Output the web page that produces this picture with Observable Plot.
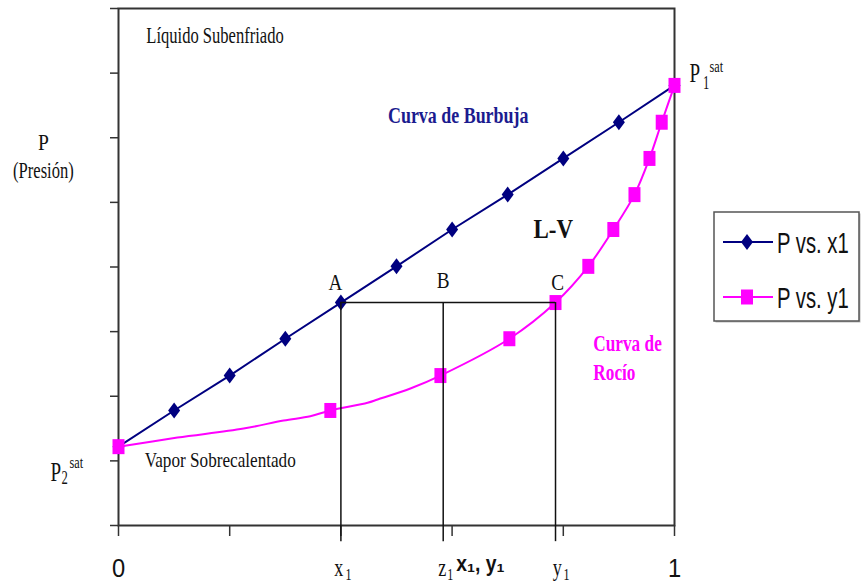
<!DOCTYPE html>
<html>
<head>
<meta charset="utf-8">
<script src="https://cdn.jsdelivr.net/npm/d3@7"></script>
<script src="https://cdn.jsdelivr.net/npm/@observablehq/plot@0.6"></script>
<style>
  body { margin: 0; background: #fff; }
  #chart { position: relative; width: 863px; height: 583px; overflow: hidden; }
  #chart > svg.plot-area { position: absolute; left: 0; top: 0; }
  #chart > svg#legend { position: absolute; left: 712px; top: 209px; }
</style>
</head>
<body>
<div id="chart"></div>
<script>
// Liquid mole fraction x1 along the bubble-point curve
const liquidX1 = [0, 0.1, 0.2, 0.3, 0.4, 0.5, 0.6, 0.7, 0.8, 0.9, 1];
// Pressure levels (arbitrary units) shared by both curves
const pressure = [1.22, 1.78, 2.32, 2.89, 3.45, 4.01, 4.58, 5.12, 5.68, 6.24, 6.81];
// Vapour mole fraction y1 along the dew-point curve, at the same pressures
const vaporY1 = [0, 0.381, 0.579, 0.703, 0.786, 0.845, 0.890, 0.928, 0.955, 0.977, 1];
// Extra traced points of the dew curve in its low-pressure stretch (no markers)
const dewTraceY1 = [0, 0.106, 0.225, 0.297, 0.345, 0.381, 0.448, 0.466, 0.525, 0.579];
const dewTraceP  = [1.22, 1.36, 1.50, 1.625, 1.69, 1.78, 1.90, 1.95, 2.12, 2.32];
// Tie line A-B-C: liquid x1, feed z1, vapour y1 at one pressure
const feedZ1 = 0.584;
const tieLabels = ["x", "z", "y"];
const pointLabels = ["A", "B", "C"];
// Axis ticks
const xTicks = [0, 0.2, 0.4, 0.6, 0.8, 1];
const yTicks = [0, 1, 2, 3, 4, 5, 6, 7, 8];
const xEndLabels = ["0", "1"];

const bubble = liquidX1.map((x1, i) => ({x1, p: pressure[i]}));
const dew = vaporY1.map((y1, i) => ({y1, p: pressure[i]}));
const dewPath = dewTraceY1.map((y1, i) => ({y1, p: dewTraceP[i]}))
  .concat(dew.filter(d => d.y1 > dewTraceY1[dewTraceY1.length - 1]));
const tieP = pressure[4];
const tieX = [liquidX1[4], feedZ1, vaporY1[4]];

const NAVY = "#000080";
const MAGENTA = "#ff00ff";
const SERIF = "'Liberation Serif', 'Times New Roman', serif";
const SANS = "'Liberation Sans', Arial, sans-serif";

// Marker shapes: slightly tall diamond and tall square
const tallDiamond = {
  draw(ctx, size) {
    const r = Math.sqrt(size / Math.PI), w = r * 1.2, h = r * 1.6;
    ctx.moveTo(0, -h); ctx.lineTo(w, 0); ctx.lineTo(0, h); ctx.lineTo(-w, 0); ctx.closePath();
  }
};
const tallSquare = {
  draw(ctx, size) {
    const r = Math.sqrt(size / Math.PI), w = r * 1.2, h = r * 1.5;
    ctx.rect(-w, -h, 2 * w, 2 * h);
  }
};

// Annotation layout (data coordinates, optional pixel offsets, horizontal condensing)
const notes = [
  {id: "liquid-region", text: "Líquido Subenfriado", x: 0.1736, y: 7.58, size: 23, sx: 0.72},
  {id: "p-axis-symbol", text: "P", x: -0.135, y: 5.92, size: 23, sx: 0.85},
  {id: "p-axis-name", text: "(Presión)", x: -0.135, y: 5.49, size: 23, sx: 0.72},
  {id: "bubble-curve", text: "Curva de Burbuja", x: 0.611, y: 6.34, size: 23, weight: "bold", fill: "#1b1b8f", sx: 0.78},
  {id: "two-phase", text: "L-V", x: 0.782, y: 4.58, size: 27, weight: "bold", sx: 0.85},
  {id: "point-a", text: pointLabels[0], x: tieX[0] - 0.01, y: 3.76, size: 24, sx: 0.8},
  {id: "point-b", text: pointLabels[1], x: tieX[1], y: 3.79, size: 24, sx: 0.8},
  {id: "point-c", text: pointLabels[2], x: tieX[2] + 0.004, y: 3.76, size: 24, sx: 0.8},
  {id: "dew-curve-1", text: "Curva de", x: 0.854, y: 2.81, size: 23, weight: "bold", fill: MAGENTA, anchor: "start", sx: 0.75},
  {id: "dew-curve-2", text: "Rocío", x: 0.854, y: 2.37, size: 23, weight: "bold", fill: MAGENTA, anchor: "start", sx: 0.75},
  {id: "vapor-region", text: "Vapor Sobrecalentado", x: 0.183, y: 1.02, size: 22, sx: 0.78},
  // P1 sat at the pure-component-1 end
  {id: "p1sat-p", text: "P", x: 1, y: pressure[10], dx: 15, dy: -12, size: 28, anchor: "start", sx: 0.68},
  {id: "p1sat-sub", text: "1", x: 1, y: pressure[10], dx: 28.5, dy: -2, size: 18, anchor: "start", sx: 0.7},
  {id: "p1sat-sup", text: "sat", x: 1, y: pressure[10], dx: 35, dy: -19, size: 17, anchor: "start", sx: 0.72},
  // P2 sat at the pure-component-2 end
  {id: "p2sat-p", text: "P", x: 0, y: pressure[0], dx: -68, dy: 25, size: 28, anchor: "start", sx: 0.68},
  {id: "p2sat-sub", text: "2", x: 0, y: pressure[0], dx: -57, dy: 32, size: 18, anchor: "start", sx: 0.7},
  {id: "p2sat-sup", text: "sat", x: 0, y: pressure[0], dx: -49, dy: 15.7, size: 17, anchor: "start", sx: 0.72},
  // Axis end labels and composition labels
  {id: "x-end-0", text: xEndLabels[0], x: 0, y: -0.67, size: 25, family: SANS, sx: 0.95},
  {id: "x-end-1", text: xEndLabels[1], x: 1, y: -0.67, size: 25, family: SANS, sx: 0.95},
  {id: "x-title", text: "x₁, y₁", x: 0.651, y: -0.59, size: 22, weight: "bold", family: SANS, sx: 0.88},
  ...tieX.flatMap((x, i) => [
    {id: "tie-" + tieLabels[i], text: tieLabels[i], x, y: -0.66, dx: [-2, -1, 1.7][i], size: 26, sx: 0.7},
    {id: "tie-" + tieLabels[i] + "-sub", text: "1", x, y: -0.77, dx: [4.5, 4, 8][i], size: 16, anchor: "start", sx: 0.75}
  ])
];
const noteById = new Map(notes.map(n => [n.id, n]));

const noteMarks = notes.map(n => Plot.text([n], {
  x: "x", y: "y", text: "text",
  dx: n.dx || 0, dy: n.dy || 0,
  fontSize: n.size, fontWeight: n.weight || "normal",
  fontFamily: n.family || SERIF,
  fill: n.fill || "#111",
  textAnchor: n.anchor || "middle", lineAnchor: "middle",
  ariaDescription: n.id
}));

const svg = Plot.plot({
  width: 863, height: 583,
  marginLeft: 118, marginRight: 189, marginTop: 8, marginBottom: 58,
  x: {domain: [0, 1]},
  y: {domain: [0, 8]},
  style: {background: "white", overflow: "visible", fontFamily: SERIF},
  marks: [
    Plot.axisX({ticks: xTicks, tickSize: 11, tickFormat: () => "", label: null, stroke: "#333", strokeWidth: 1.5}),
    Plot.axisY({ticks: yTicks, tickSize: 8, tickFormat: () => "", label: null, stroke: "#333", strokeWidth: 1.5}),
    Plot.frame({stroke: "#333", strokeWidth: 2}),
    Plot.line(bubble, {x: "x1", y: "p", stroke: NAVY, strokeWidth: 2}),
    Plot.dot(bubble, {x: "x1", y: "p", symbol: tallDiamond, r: 5, fill: NAVY, stroke: "none"}),
    Plot.line(dewPath, {x: "y1", y: "p", stroke: MAGENTA, strokeWidth: 2, curve: "catmull-rom"}),
    Plot.dot(dew, {x: "y1", y: "p", symbol: tallSquare, r: 5, fill: MAGENTA, stroke: "none"}),
    Plot.ruleX(tieX, {y1: -0.25, y2: tieP, stroke: "#111", strokeWidth: 1.5}),
    Plot.ruleY([tieP], {x1: tieX[0], x2: tieX[2], stroke: "#111", strokeWidth: 1.5}),
    ...noteMarks
  ]
});
svg.classList.add("plot-area");

// Condense annotation glyphs horizontally around their anchors
svg.querySelectorAll("g[aria-description]").forEach(g => {
  const n = noteById.get(g.getAttribute("aria-description"));
  if (!n || !n.sx) return;
  g.querySelectorAll("text").forEach(t => {
    const tf = t.getAttribute("transform");
    if (tf) {
      t.setAttribute("transform", `${tf} scale(${n.sx},1)`);
    } else {
      const x = t.getAttribute("x") || 0, y = t.getAttribute("y") || 0;
      t.removeAttribute("x"); t.removeAttribute("y");
      t.setAttribute("transform", `translate(${x},${y}) scale(${n.sx},1)`);
    }
  });
});

const chart = document.getElementById("chart");
chart.appendChild(svg);

// Legend box
const legendItems = [
  {label: "P vs. x1", color: NAVY, symbol: tallDiamond},
  {label: "P vs. y1", color: MAGENTA, symbol: tallSquare}
];
const lg = d3.create("svg").attr("id", "legend").attr("width", 151).attr("height", 116);
lg.append("rect").attr("x", 3.5).attr("y", 4.5).attr("width", 145).attr("height", 109)
  .attr("fill", "#bbb");
lg.append("rect").attr("x", 2).attr("y", 3).attr("width", 145).attr("height", 109)
  .attr("fill", "white").attr("stroke", "#555").attr("stroke-width", 1.5);
legendItems.forEach((d, i) => {
  const cy = 33 + i * 55;
  lg.append("line").attr("x1", 11).attr("x2", 61).attr("y1", cy).attr("y2", cy)
    .attr("stroke", d.color).attr("stroke-width", 2);
  lg.append("path").attr("d", d3.symbol(d.symbol, Math.PI * 25)())
    .attr("transform", `translate(35,${cy})`).attr("fill", d.color);
  lg.append("text").attr("transform", `translate(65,${cy + 10.5}) scale(0.7,1)`)
    .attr("font-family", SANS).attr("font-size", 29).attr("fill", "#111").text(d.label);
});
chart.appendChild(lg.node());
</script>
</body>
</html>
